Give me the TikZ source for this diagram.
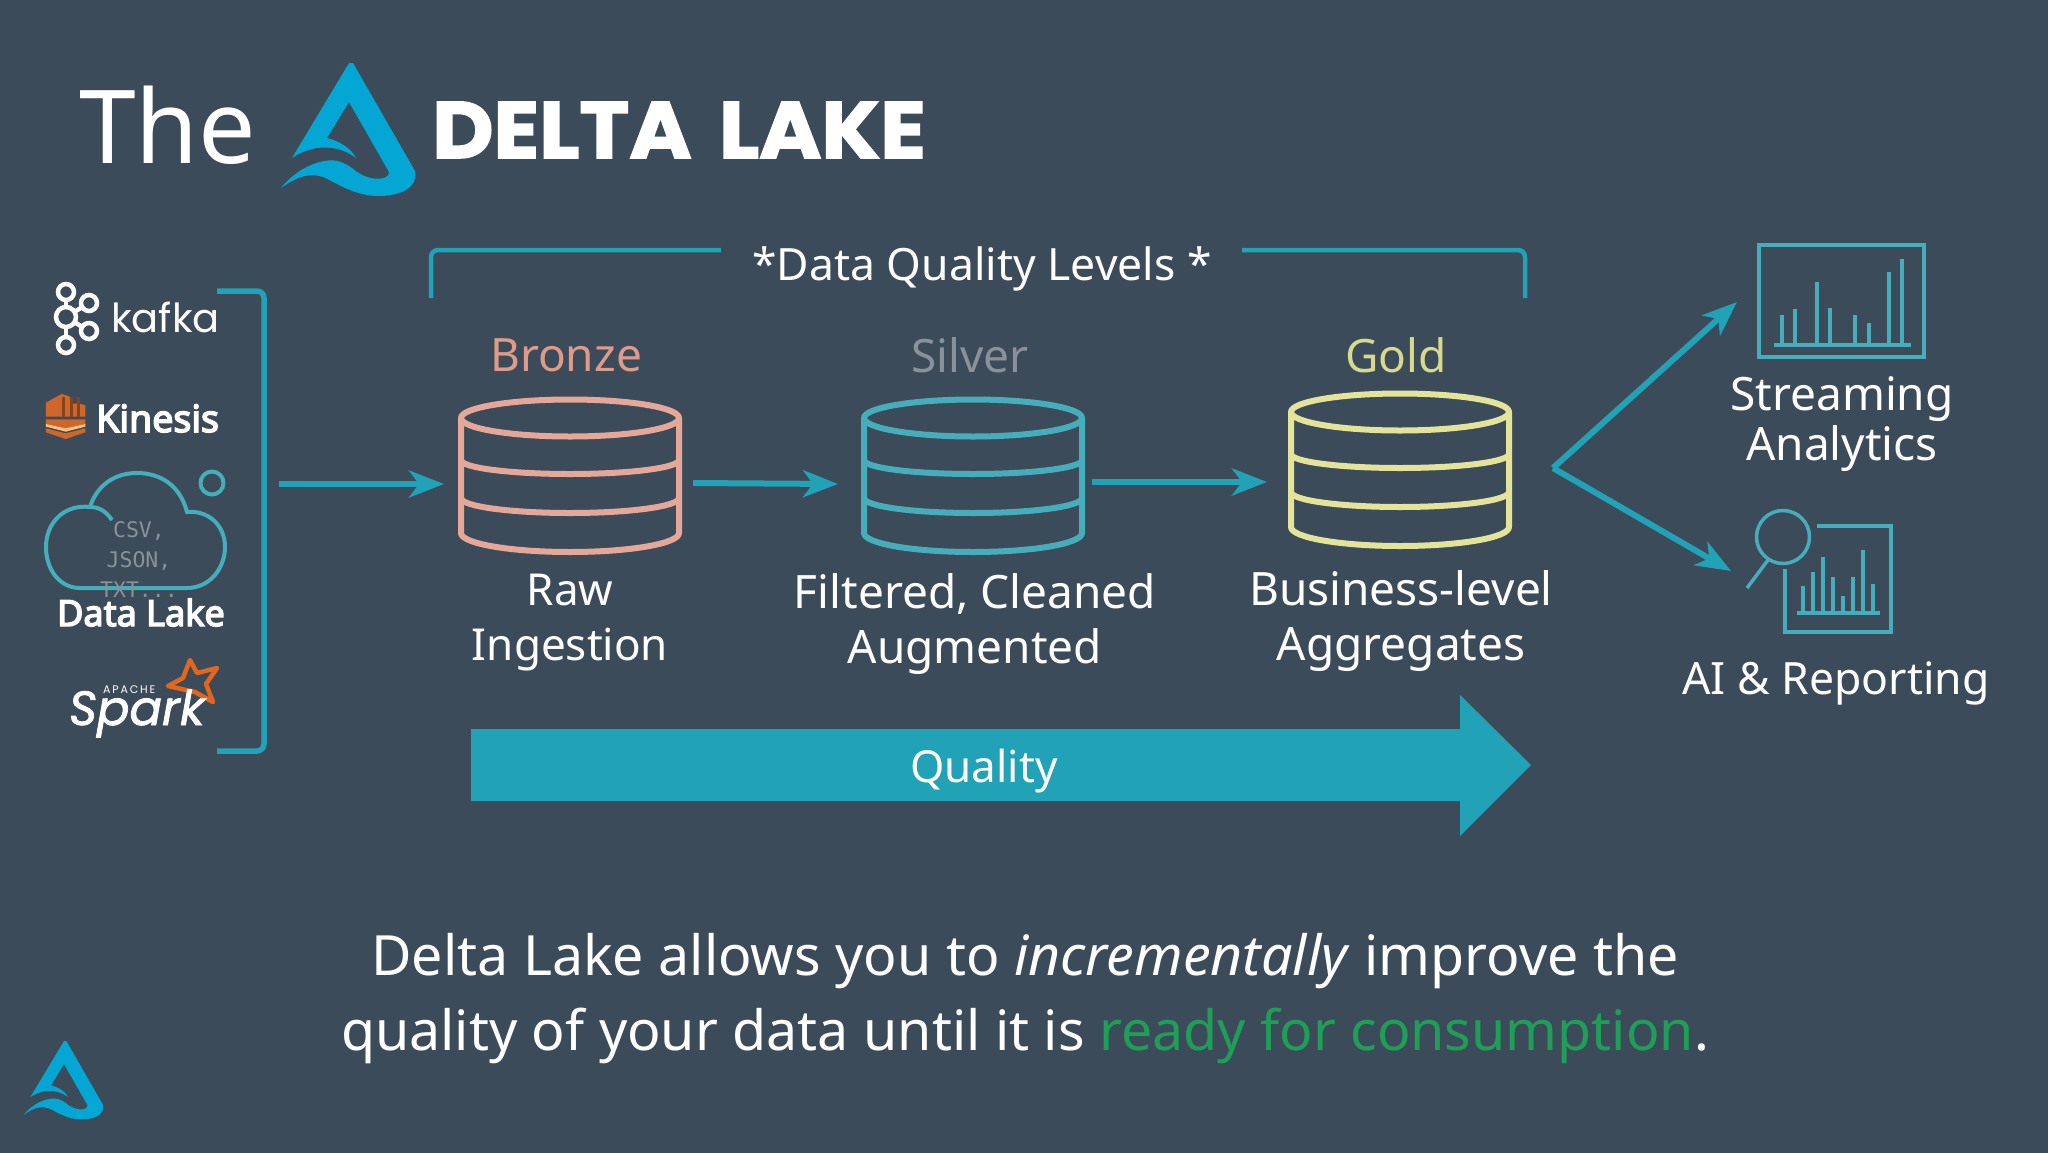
\documentclass[tikz,border=0pt]{standalone}
\usepackage{fontspec}
\usepackage{graphicx}
\usetikzlibrary{arrows.meta}
\setmainfont{Noto Sans}
\newfontfamily\heavyfont[FakeBold=4]{Noto Sans}
\newfontfamily\logofont[FakeBold=2]{Poppins}
\newfontfamily\brandfont{Poppins}
\newfontfamily\sparkfont[FakeBold=1.5]{Poppins}
\newfontfamily\codefont{DejaVu Sans Mono}
\definecolor{slide}{HTML}{3C4B5A}
\definecolor{teal}{HTML}{22A2B7}
\definecolor{icon}{HTML}{46AEBA}
\definecolor{delta}{HTML}{04A7D4}
\definecolor{bronze}{HTML}{E5A898}
\definecolor{bronzetext}{HTML}{DE9B88}
\definecolor{silvertext}{HTML}{8A9299}
\definecolor{gold}{HTML}{E3E49A}
\definecolor{goldtext}{HTML}{D6DA8C}
\definecolor{ready}{HTML}{1F9E57}
\definecolor{sparkstar}{HTML}{E2661E}
\definecolor{kinesis}{HTML}{D0672A}
\newcommand{\sz}[2]{\fontsize{#1}{#2}\selectfont}
% one database drum: centre x, centre y of the lid, colour
\newcommand{\drawdb}[3]{
	\draw[#3,line width=6pt,line join=round] (#1-109,#2) arc[start angle=180,end angle=-180,x radius=109,y radius=18.5]
	  -- (#1-109,#2+115) arc[start angle=180,end angle=0,x radius=109,y radius=19] -- (#1+109,#2);
	\draw[#3,line width=6pt] (#1-109,#2+42) arc[start angle=180,end angle=0,x radius=109,y radius=14];
	\draw[#3,line width=6pt] (#1-109,#2+80) arc[start angle=180,end angle=0,x radius=109,y radius=15];
}
% the delta mark: apex x, apex y, scale
\newcommand{\deltalogo}[3]{
	\fill[delta,shift={(#1,#2)},scale=#3] (0,0) -- (-57,95) .. controls (-35,80) and (-10,82) .. (7,95)
	  .. controls (2,85) and (-10,78) .. (-22,75) -- (0,39) -- (40,109) .. controls (41,116) and (25,120) .. (8,109)
	  .. controls (-5,98) and (-14,96) .. (-24,98) .. controls (-40,100) and (-58,112) .. (-68,125)
	  .. controls (-50,112) and (-38,110) .. (-26,114) .. controls (-12,120) and (5,133) .. (30,133)
	  .. controls (50,133) and (70,125) .. (66,108) -- (4,0) -- cycle;
}
\tikzset{
	label/.style={white,inner sep=0pt,anchor=base,align=center,font=\sz{46}{55}},
	level/.style={inner sep=0pt,anchor=base,font=\sz{46}{55}},
	flow/.style={teal,line width=6pt,-{Stealth[length=35pt,width=27pt,inset=10pt]}},
	brace/.style={teal,line width=5.5pt,rounded corners=7pt},
	chart/.style={icon,line width=4pt},
	ring/.style={white,line width=4.5pt},
}
\begin{document}
\begin{tikzpicture}[x=1pt,y=-1pt]
	\useasboundingbox (0,0) rectangle (2048,1152);
	\fill[slide] (-5,-5) rectangle (2053,1157);
	% title
	\node[white,inner sep=0pt,anchor=base west,font=\sz{102}{110}] (the) at (79,163) {The};
	\deltalogo{349}{63}{1}
	\node[white,inner sep=0pt,anchor=base west,font=\logofont\bfseries\sz{80}{80}] (deltalake) at (432,158) {\scalebox{1.055}[1]{DELTA\hspace{9pt} LAKE}};
	% sources
	\foreach \a/\b in {66/292,66/345,89/303,89/331}
		\draw[ring] (66,317) -- (\a,\b);
	\foreach \a/\b/\r in {66/292/8,66/345/8,89/303/8,89/331/8,66/317/10}
		\draw[ring,fill=slide] (\a,\b) circle[radius=\r];
	\node[white,inner sep=0pt,anchor=base west,font=\brandfont\sz{40}{40}] (kafka) at (111,332) {kafka};
	\begin{scope}[shift={(20,260)},scale=.3333]
		\fill[kinesis] (78,428) -- (125,402) -- (150,410) -- (150,432) -- (175,430) -- (196,436) -- (196,470) -- (78,470) -- cycle;
		\foreach \a in {125,150,172}
			\fill[kinesis!65!black] (\a,410) rectangle (\a+9,470);
		\fill[kinesis] (78,478) -- (196,478) -- (196,492) -- (137,505) -- (78,492) -- cycle;
		\fill[orange!50!white] (78,492) -- (137,505) -- (196,492) -- (196,500) -- (137,515) -- (78,500) -- cycle;
		\fill[kinesis] (78,505) -- (137,520) -- (196,505) -- (196,517) -- (137,537) -- (78,517) -- cycle;
	\end{scope}
	\node[white,inner sep=0pt,anchor=base west,font=\heavyfont\sz{37.5}{36}] (kinesisname) at (96,432) {Kinesis};
	\draw[icon,line width=4pt] (112,520) .. controls (105,510) and (98,507) .. (90,507)
	  .. controls (65,504) and (46,522) .. (46,547) .. controls (46,570) and (60,588) .. (80,588)
	  -- (187,588) .. controls (210,588) and (225,568) .. (225,547) .. controls (225,525) and (208,510) .. (187,512)
	  .. controls (180,485) and (160,473) .. (137,473) .. controls (115,473) and (97,485) .. (90,507);
	\draw[icon,line width=4pt] (212,483) circle[radius=11.5];
	\node[silvertext,inner sep=0pt,anchor=base,align=center,font=\codefont\sz{21.5}{30}] (files) at (139,597) {CSV,\\JSON,\\TXT...};
	\node[white,inner sep=0pt,anchor=base,font=\heavyfont\sz{36}{36}] (datalake) at (141,626) {Data Lake};
	\draw[sparkstar,line width=4.5pt,line join=round] (190,660) -- (197,673) -- (217,668) -- (206,684) -- (213,702) -- (195,692) -- (168,686) -- (183,678) -- cycle;
	\node[white,inner sep=0pt,anchor=base west,font=\brandfont\sz{11}{11}] (apache) at (103,693) {A\,P\,A\,C\,H\,E};
	\node[white,inner sep=0pt,anchor=base west,font=\sparkfont\itshape\sz{48}{48}] (spark) at (69,725) {Spark};
	\draw[brace] (217,291) -- (264,291) -- (264,751) -- (217,751);
	% medallion levels
	\draw[brace,line width=4.5pt] (431,298) -- (431,250) -- (721,250);
	\draw[brace,line width=4.5pt] (1242,250) -- (1525,250) -- (1525,298);
	\node[label,font=\sz{44.5}{55}] (levels) at (982,280) {*Data Quality Levels *};
	\node[level,bronzetext] (bronzename) at (566,371) {Bronze};
	\node[level,silvertext] (silvername) at (970,372) {Silver};
	\node[level,goldtext] (goldname) at (1396,372) {Gold};
	\drawdb{570}{418}{bronze}
	\drawdb{973}{418}{icon}
	\drawdb{1400}{412}{gold}
	\node[label,font=\sz{44}{55}] (raw) at (570,660) {Raw\\Ingestion};
	\node[label] (filtered) at (975,663) {Filtered, Cleaned\\Augmented};
	\node[label] (business) at (1401,660) {Business-level\\Aggregates};
	\coordinate (srcout) at (279,484);
	\coordinate (bronzein) at (444,484);
	\coordinate (bronzeout) at (693,483);
	\coordinate (silverin) at (838,484);
	\coordinate (silverout) at (1092,482);
	\coordinate (goldin) at (1267,482);
	\coordinate (fork) at (1553,468);
	\coordinate (streamin) at (1737,302);
	\coordinate (aiin) at (1731,571);
	\draw[flow] (srcout) -- (bronzein);
	\draw[flow] (bronzeout) -- (silverin);
	\draw[flow] (silverout) -- (goldin);
	\draw[flow] (fork) -- (streamin);
	\draw[flow] (fork) -- (aiin);
	% quality bar
	\fill[teal] (471,729) -- (1460,729) -- (1460,695) -- (1531,765) -- (1460,836) -- (1460,801) -- (471,801) -- cycle;
	\node[white,inner sep=0pt,font=\sz{44}{50}] (quality) at (984,771) {Quality};
	% consumers
	\draw[chart] (1759,245) rectangle (1924,357);
	\draw[chart] (1774,345) -- (1911,345);
	\foreach \a/\b in {1782/315,1795/309,1817/282,1830/308,1855/315,1869/323,1889/272,1902/259}
		\draw[chart] (\a,345) -- (\a,\b);
	\node[label,font=\sz{46}{50}] (streaming) at (1842,460) {Streaming\\Analytics};
	\draw[chart,line width=3.5pt] (1783,537) circle[radius=26.5];
	\draw[chart,line width=3.5pt] (1768,560) -- (1747,588);
	\draw[chart,line width=3.5pt] (1817,526) -- (1891,526) -- (1891,632) -- (1785,632) -- (1785,569);
	\draw[chart,line width=3.5pt] (1797,613) -- (1880,613);
	\foreach \a/\b in {1803/586,1813/572,1823/557,1833/577,1843/596,1853/577,1863/550,1873/584}
		\draw[chart,line width=3.5pt] (\a,613) -- (\a,\b);
	\node[label,font=\sz{44.5}{55}] (reporting) at (1836,694) {AI \& Reporting};
	% bottom line
	\node[white,inner sep=0pt,anchor=base,font=\sz{55.5}{75},align=center] (claim) at (1025,1050)
	  {Delta Lake allows you to \textit{incrementally} improve the\\quality of your data until it is \textcolor{ready}{ready for consumption}.};
	\deltalogo{64}{1041}{.59}
\end{tikzpicture}
\end{document}
